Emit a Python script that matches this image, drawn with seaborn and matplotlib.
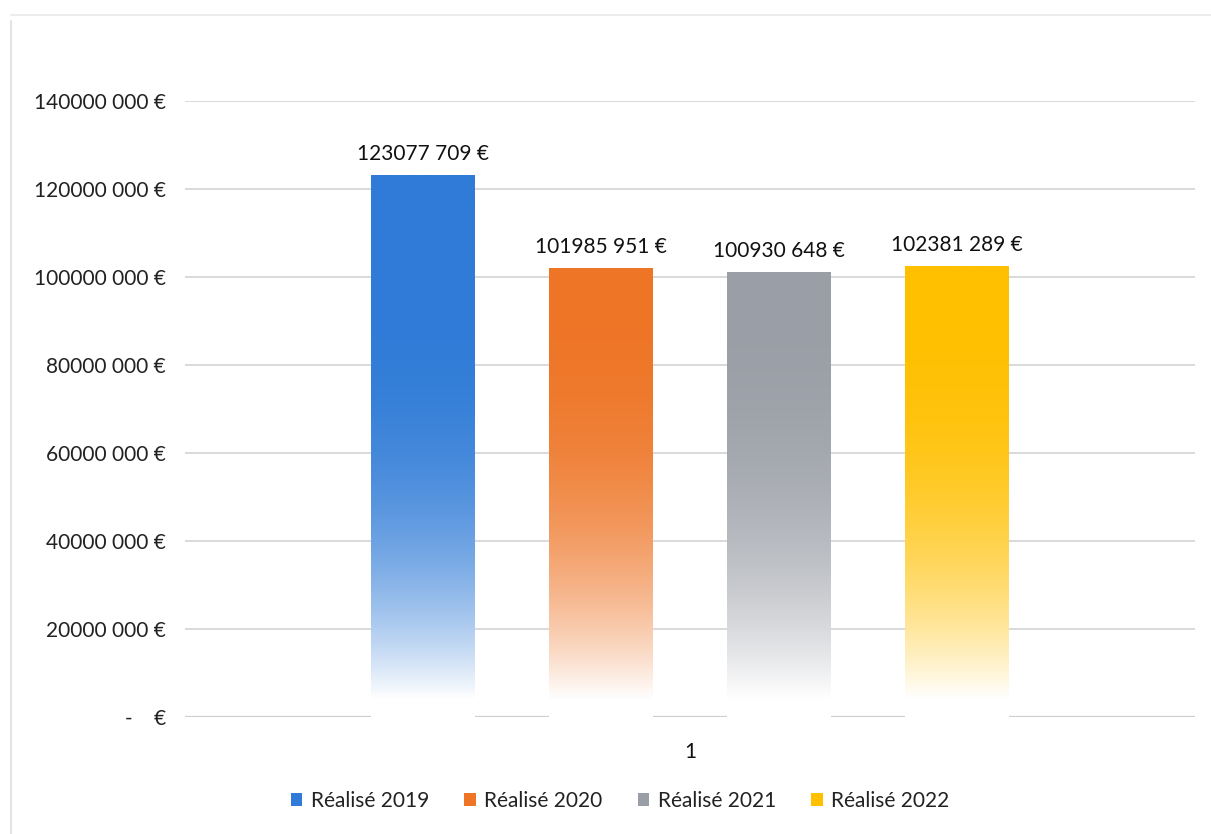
import numpy as np
import pandas as pd
import matplotlib
matplotlib.use("Agg")
import matplotlib.pyplot as plt
from matplotlib.patches import Patch
from matplotlib.lines import Line2D
from matplotlib.colors import to_rgb
import seaborn as sns

# Data
series = ["Réalisé 2019", "Réalisé 2020", "Réalisé 2021", "Réalisé 2022"]
values = [123077709, 101985951, 100930648, 102381289]
category = ["1", "1", "1", "1"]
colors = ["#2F7BD7", "#EE7526", "#9A9EA6", "#FFC000"]
tick_values = [0, 20e6, 40e6, 60e6, 80e6, 100e6, 120e6, 140e6]
tick_labels = ["-    €", "20000 000 €", "40000 000 €", "60000 000 €",
               "80000 000 €", "100000 000 €", "120000 000 €", "140000 000 €"]


def euro(v):
    return f"{v // 1000} {v % 1000:03d} €"


df = pd.DataFrame({"cat": category, "serie": series, "val": values})

sns.set_theme(style="white")
plt.rcParams["font.family"] = ["Lato", "DejaVu Sans"]

fig = plt.figure(figsize=(12.11, 8.34), dpi=100)
ax = fig.add_axes([0.153, 0.140, 0.834, 0.739])

sns.barplot(data=df, x="cat", y="val", hue="serie", palette=colors,
            width=0.705, gap=0.416, legend=False, ax=ax, zorder=2)

# Replace flat bars by a vertical fade to white toward the baseline
n = 500
for patch, col, v in zip(ax.patches, colors, values):
    x0, w, h = patch.get_x(), patch.get_width(), patch.get_height()
    ys = np.linspace(0, h, n)
    s = np.clip((ys - 4e6) / 96e6, 0, 1)
    t = 1 - (1 - s) ** 2.6
    rgb = np.array(to_rgb(col))
    img = (1 - t)[:, None] * np.ones(3) + t[:, None] * rgb
    img = img[:, None, :]
    ax.imshow(img, extent=[x0, x0 + w, 0, h], origin="lower",
              aspect="auto", zorder=2, interpolation="bilinear")
    patch.set_visible(False)
    ax.text(x0 + w / 2, h + 2.6e6, euro(v), ha="center", va="bottom",
            fontsize=15, color="#111111")

ax.set_xlim(-0.5, 0.5)
ax.set_ylim(0, 140e6)
ax.set_yticks(tick_values)
ax.set_yticklabels(tick_labels, fontsize=15, color="#222222")
ax.set_xticks([0])
ax.set_xticklabels(["1"], fontsize=15, color="#111111")
ax.tick_params(axis="y", pad=14, length=0)
ax.tick_params(axis="x", pad=18, length=0)
ax.set_xlabel("")
ax.set_ylabel("")
ax.grid(axis="y", color="#d9d9d9", linewidth=1.4, zorder=0)
ax.set_axisbelow(True)
for s in ax.spines.values():
    s.set_visible(False)
ax.axhline(0, color="#cfcfcf", linewidth=1.6, zorder=1)

handles = [Patch(facecolor=c, edgecolor="none", label=s) for c, s in zip(colors, series)]
fig.legend(handles=handles, loc="center", bbox_to_anchor=(0.512, 0.040), ncol=4,
           frameon=False, fontsize=15, handlelength=0.55, handleheight=0.55,
           handletextpad=0.4, columnspacing=1.7, labelcolor="#222222")

# Page frame lines
fig.add_artist(Line2D([0.009, 0.009], [0.0, 0.975], transform=fig.transFigure,
                      color="#e4e4e4", linewidth=1.5))
fig.add_artist(Line2D([0.009, 1.0], [0.982, 0.982], transform=fig.transFigure,
                      color="#ececec", linewidth=1.5))

fig.savefig("out.png", dpi=100)
